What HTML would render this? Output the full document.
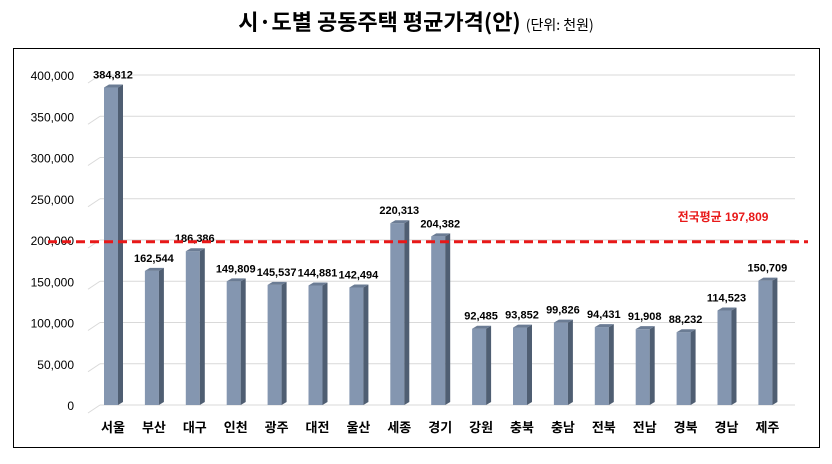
<!DOCTYPE html>
<html><head><meta charset="utf-8"><style>
body{margin:0;background:#fff;width:832px;height:459px;overflow:hidden;font-family:"Liberation Sans","Noto Sans CJK KR",sans-serif}
</style></head><body>
<svg width="832" height="459">
<text x="416" y="30" text-anchor="middle" font-size="22" font-weight="bold" font-family="'Noto Sans CJK KR',sans-serif">시·도별 공동주택 평균가격(안) <tspan font-size="14" font-weight="normal">(단위: 천원)</tspan></text>
<rect x="13.5" y="48.5" width="806" height="399" fill="none" stroke="#000" stroke-width="1"/>
<g id="grid"></g><g id="bars"></g><g id="labels"></g>
</svg>
<script>
const categories=["서울","부산","대구","인천","광주","대전","울산","세종","경기","강원","충북","충남","전북","전남","경북","경남","제주"];
const values=[384812,162544,186386,149809,145537,144881,142494,220313,204382,92485,93852,99826,94431,91908,88232,114523,150709];
const ticks=[0,50000,100000,150000,200000,250000,300000,350000,400000];
const average=197809;
const svg=document.querySelector('svg');
const NS='http://www.w3.org/2000/svg';
const y=v=>405-v*(330/400000);
const x=i=>104+i*40.9;
function mk(t,a,p){const e=document.createElementNS(NS,t);for(const k in a)e.setAttribute(k,a[k]);(p||svg).appendChild(e);return e;}
const g=document.getElementById('grid');
ticks.forEach(t=>{
 const l=mk('line',{x1:100,x2:795,y1:y(t),y2:y(t),stroke:'#d9d9d9','stroke-width':1},g);
 
 
 const d=mk('line',{x1:88,x2:100,y1:y(t)+8,y2:y(t),stroke:'#d9d9d9','stroke-width':1},g);
 
 
 const tx=mk('text',{x:74,y:y(t)+5,'text-anchor':'end','font-size':12,fill:'#000'},g);
 tx.textContent=t.toLocaleString('en-US');
 
 
});
const b=document.getElementById('bars');
values.forEach((v,i)=>{
 const x0=x(i),yt=y(v);
 const f=mk('rect',{x:x0,y:yt,width:14,height:405-yt,fill:'#8496b0'},b);
 
 
 const s=mk('polygon',{points:`${x0+14},${yt} ${x0+19},${yt-3} ${x0+19},${402} ${x0+14},405`,fill:'#4f5e72'},b);
 
 
 const tp=mk('polygon',{points:`${x0},${yt} ${x0+5},${yt-3} ${x0+19},${yt-3} ${x0+14},${yt}`,fill:'#6b7c94'},b);
 
 
 const lb=mk('text',{x:x0+9,y:yt-9,'text-anchor':'middle','font-size':11,'font-weight':'bold'},b);
 lb.textContent=v.toLocaleString('en-US');
 
 
 const cl=mk('text',{x:x0+9,y:432,'text-anchor':'middle','font-size':13,'font-weight':'bold'},b);
 cl.textContent=categories[i];
 
 
});
const al=mk('line',{x1:48,x2:808,y1:y(average),y2:y(average),stroke:'#e81818','stroke-width':3,'stroke-dasharray':'9,5'});


const at=mk('text',{x:723,y:y(average)-21,'text-anchor':'middle','font-size':12,'font-weight':'bold',fill:'#e81818'});
at.textContent='전국평균 '+average.toLocaleString('en-US');


</script>
</body></html>
